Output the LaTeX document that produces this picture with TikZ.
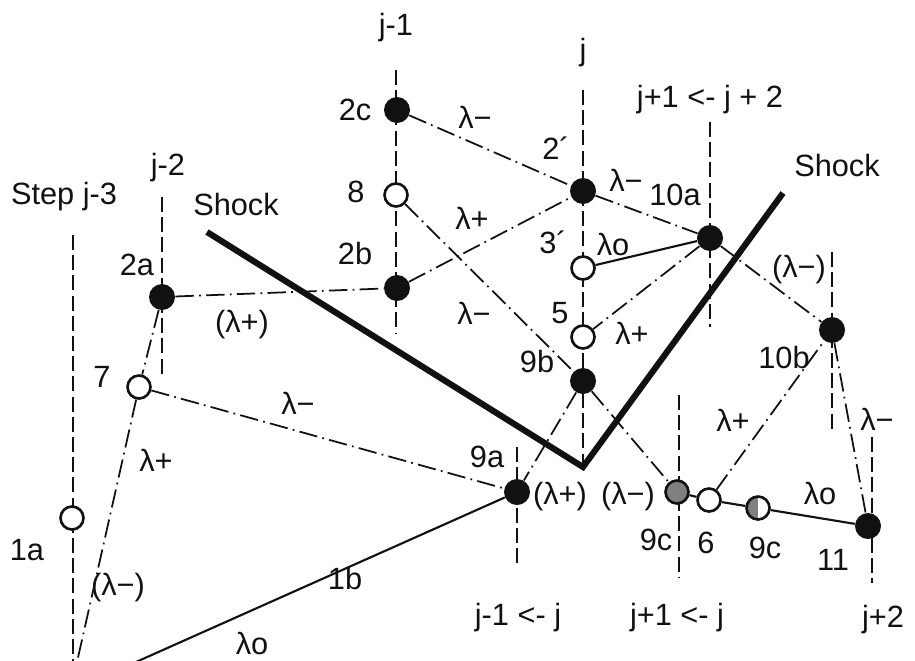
\documentclass[tikz,border=0pt]{standalone}
\usepackage{fontspec}
\setmainfont{Liberation Sans}
\usetikzlibrary{positioning}
\definecolor{ink}  {HTML}{111111}
\definecolor{hatch}{HTML}{808080}
\tikzset{
  fulldot/.style={circle, fill=ink, minimum size=0.52cm, inner sep=0pt},
  opendot/.style={circle, draw=ink, fill=white, line width=1.5pt, minimum size=0.46cm, inner sep=0pt},
  hatchdot/.style={opendot, fill=hatch},
  halfdot/.style={opendot, path picture={\fill[hatch] (path picture bounding box.south west) rectangle (path picture bounding box.north);}},
  gridline/.style={ink, line width=1.1pt, dash pattern=on 8.5pt off 3pt},
  charline/.style={ink, line width=1pt, dash pattern=on 10.5pt off 3pt on 1pt off 3pt},
  pathline/.style={ink, line width=1.2pt},
  shockline/.style={ink, line width=3.5pt},
  lab/.style={inner sep=0pt, text=ink}
}
\begin{document}
\begin{tikzpicture}[x=0.02cm, y=-0.02cm, font=\fontsize{17.5}{19}\selectfont]
      \clip (0,0) rectangle (915,660);
      % time step columns
      \foreach \cx/\ctop/\cbot in {73/235/662, 162/197/377, 396/70/334, 583/90/465, 710/122/327,
                                   832/252/433, 517/447/567, 679/395/577, 872/437/583}
        \draw[gridline] (\cx,\ctop) -- (\cx,\cbot);
      % column headings
      \node[lab] (hj3) at (64,197) {Step j-3};
      \node[lab] (hj2) at (168,168) {j-2};
      \node[lab] (hj1) at (396,28) {j-1};
      \node[lab] (hj)  at (583,53) {j};
      \node[lab] (hj12) at (710,100) {j+1 <- j + 2};
      \node[lab] (hj1j) at (518,618) {j-1 <- j};
      \node[lab] (hjj1) at (677,618) {j+1 <- j};
      \node[lab] (hj2r) at (883,620) {j+2};
      % shock
      \node[lab] (shl) at (236,205) {Shock};
      \node[lab] (shr) at (837,166) {Shock};
      \coordinate (sa) at (207,232);
      \coordinate (sv) at (583,467);
      \coordinate (sb) at (783,193);
      \draw[shockline] (sa) -- (sv) -- (sb);
      % points
      \node[opendot] (d1a) at (72,518) {};
      \node[fulldot] (d2a) at (162,297) {};
      \node[opendot] (d7)  at (139,387) {};
      \node[fulldot] (d2c) at (397,110) {};
      \node[opendot] (d8)  at (396,195) {};
      \node[fulldot] (d2b) at (397,288) {};
      \node[fulldot] (d2p) at (583,191) {};
      \node[opendot] (d3p) at (583,268) {};
      \node[opendot] (d5)  at (583,337) {};
      \node[fulldot] (d9b) at (583,381) {};
      \node[fulldot] (d10a) at (710,238) {};
      \node[fulldot] (d10b) at (832,330) {};
      \node[fulldot] (d9a) at (517,492) {};
      \node[hatchdot] (d9cl) at (677,492) {};
      \node[opendot] (d6)  at (709,500) {};
      \node[halfdot] (d9cr) at (758,508) {};
      \node[fulldot] (d11) at (868,526) {};
      \coordinate (f1) at (77,662);
      \coordinate (f2) at (136,662);
      % point labels
      \node[lab] (t1a) at (27,550) {1a};
      \node[lab] (t2a) at (137,265) {2a};
      \node[lab] (t7)  at (102,377) {7};
      \node[lab] (t2c) at (355,110) {2c};
      \node[lab] (t8)  at (356,192) {8};
      \node[lab] (t2b) at (355,254) {2b};
      \node[lab] (t2p) at (556,148) {2´};
      \node[lab] (t3p) at (553,242) {3´};
      \node[lab] (t5)  at (560,313) {5};
      \node[lab] (t9b) at (537,362) {9b};
      \node[lab] (t10a) at (675,195) {10a};
      \node[lab] (t10b) at (784,358) {10b};
      \node[lab] (t9a) at (487,457) {9a};
      \node[lab] (t9cl) at (656,540) {9c};
      \node[lab] (t6)  at (706,543) {6};
      \node[lab] (t9cr) at (765,548) {9c};
      \node[lab] (t11) at (833,560) {11};
      \node[lab] (t1b) at (345,578) {1b};
      % characteristic labels
      \node[lab] (c1) at (475,117) {λ−};
      \node[lab] (c2) at (626,180) {λ−};
      \node[lab] (c3) at (472,218) {λ+};
      \node[lab] (c4) at (474,313) {λ−};
      \node[lab] (c5) at (613,245) {λo};
      \node[lab] (c6) at (632,333) {λ+};
      \node[lab] (c7) at (242,325) {(λ+)};
      \node[lab] (c8) at (799,270) {(λ−)};
      \node[lab] (c9) at (298,403) {λ−};
      \node[lab] (c10) at (156,460) {λ+};
      \node[lab] (c11) at (733,420) {λ+};
      \node[lab] (c12) at (877,419) {λ−};
      \node[lab] (c13) at (560,497) {(λ+)};
      \node[lab] (c14) at (628,497) {(λ−)};
      \node[lab] (c15) at (820,493) {λo};
      \node[lab] (c16) at (118,588) {(λ−)};
      \node[lab] (c17) at (252,643) {λo};
      % characteristics
      \draw[charline] (d2a) -- (d2b);
      \draw[charline] (d2a) -- (d7);
      \draw[charline] (d7) -- (f1);
      \draw[charline] (d7) -- (d9a);
      \draw[charline] (d2c) -- (d2p);
      \draw[charline] (d2p) -- (d10a);
      \draw[charline] (d2b) -- (d2p);
      \draw[charline] (d8) -- (d9b);
      \draw[charline] (d10a) -- (d5);
      \draw[charline] (d10a) -- (d10b);
      \draw[charline] (d9b) -- (d9a);
      \draw[charline] (d9b) -- (d9cl);
      \draw[charline] (d6) -- (d10b);
      \draw[charline] (d10b) -- (d11);
      % particle paths
      \draw[pathline] (d3p) -- (d10a);
      \draw[pathline] (d9cl) -- (d6) -- (d9cr) -- (d11);
      \draw[pathline] (f2) -- (d9a);
    \end{tikzpicture}
\end{document}
